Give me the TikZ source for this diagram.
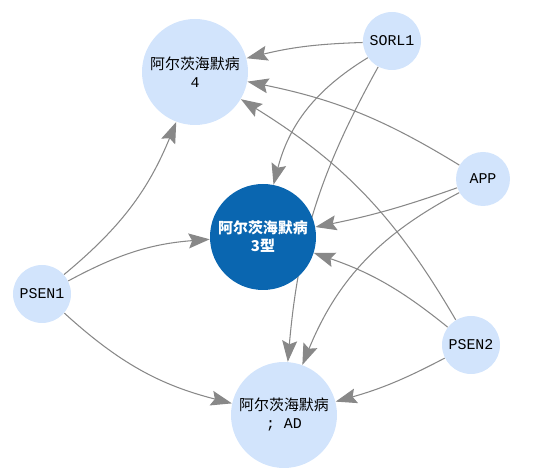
\documentclass[tikz,border=0pt]{standalone}
\usepackage{fontspec}
\setmonofont{Liberation Mono}
\newfontfamily\cjk{Noto Sans CJK SC}
\usetikzlibrary{arrows.meta, backgrounds}
\definecolor{ADLight}{RGB}{210,228,252}
\definecolor{ADDeep}{RGB}{10,102,176}
\definecolor{ADEdge}{RGB}{136,136,136}

\begin{document}
\begin{tikzpicture}[
    gene/.style={circle, fill=ADLight, minimum size=1.16cm, inner sep=0pt,
                 font=\ttfamily\fontsize{8.5}{10.2}\selectfont},
    dis/.style={circle, fill=ADLight, minimum size=2.12cm, inner sep=0pt,
                align=center, font=\ttfamily\fontsize{8.5}{10.2}\selectfont},
    focus/.style={dis, fill=ADDeep, text=white,
                  font=\cjk\bfseries\fontsize{8.5}{10.2}\selectfont},
    arr/.style={-{Stealth[length=12pt, width=8.5pt, inset=2pt]},
                draw=ADEdge, line width=0.6pt}
  ]
  \useasboundingbox (0,0) rectangle (10.7,9.5);

  \node[dis]   (ad4)   at (3.90, 8.06) {{\cjk 阿尔茨海默病}\\4};
  \node[focus] (ad3)   at (5.26, 4.76) {阿尔茨海默病\\3型};
  \node[dis]   (ad)    at (5.68, 1.20) {{\cjk 阿尔茨海默病}\\; AD};
  \node[gene]  (sorl)  at (7.84, 8.68) {SORL1};
  \node[gene, minimum size=1.08cm] (app) at (9.66, 5.92) {APP};
  \node[gene]  (psen1) at (0.84, 3.62) {PSEN1};
  \node[gene]  (psen2) at (9.42, 2.60) {PSEN2};

  % edges go under the circles
  \begin{scope}[on background layer]
    \draw[arr] (sorl)  to[bend right=6]  (ad4);
    \draw[arr] (sorl)  to[bend right=22] (ad3);
    \draw[arr] (sorl)  to[bend right=12] (ad);
    \draw[arr] (app)   to[bend right=10] (ad4);
    \draw[arr] (app)   to[bend left=4]   (ad3);
    \draw[arr] (app)   to[bend right=20] (ad);
    \draw[arr] (psen1) to[bend right=14] (ad4);
    \draw[arr] (psen1) to[bend left=12]  (ad3);
    \draw[arr] (psen1) to[bend right=14] (ad);
    \draw[arr] (psen2) to[bend right=14] (ad4);
    \draw[arr] (psen2) to[bend right=10] (ad3);
    \draw[arr] (psen2) to[bend left=6]   (ad);
  \end{scope}
\end{tikzpicture}
\end{document}
